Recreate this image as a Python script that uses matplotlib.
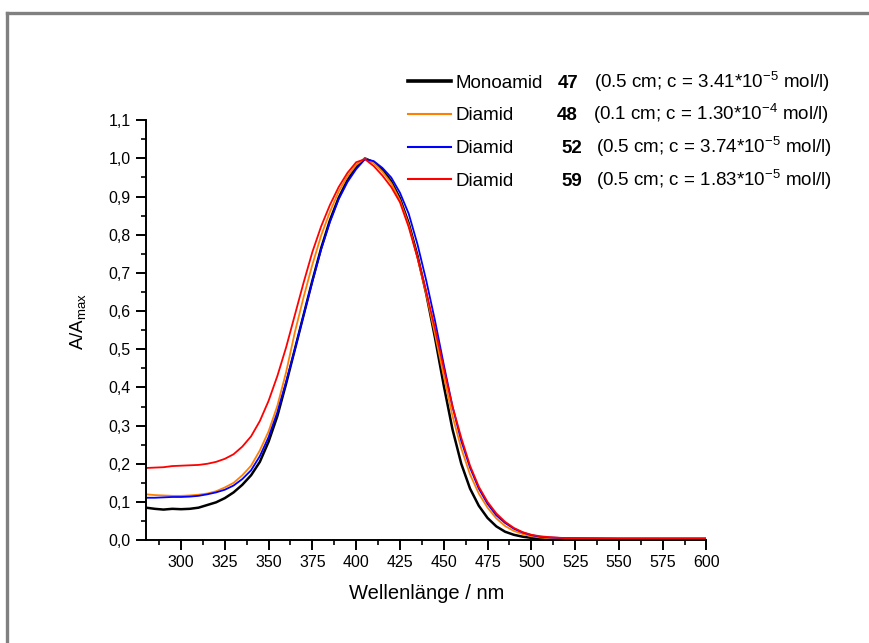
import matplotlib
matplotlib.use("Agg")
import matplotlib.pyplot as plt
from matplotlib.lines import Line2D
from matplotlib.ticker import MultipleLocator, FuncFormatter

plt.rcParams['font.family'] = ['Liberation Sans', 'DejaVu Sans']
plt.rcParams['mathtext.fontset'] = 'custom'
plt.rcParams['mathtext.rm'] = 'Liberation Sans'
plt.rcParams['mathtext.it'] = 'Liberation Sans:italic'
plt.rcParams['mathtext.bf'] = 'Liberation Sans:bold'

# wavelength grid (nm)
wl = [280, 285, 290, 295, 300, 305, 310, 315, 320, 325, 330, 335, 340, 345,
      350, 355, 360, 365, 370, 375, 380, 385, 390, 395, 400, 405, 410, 415,
      420, 425, 430, 435, 440, 445, 450, 455, 460, 465, 470, 475, 480, 485,
      490, 495, 500, 505, 510, 520, 550, 600]

# normalised absorbance A/Amax
a47 = [0.085, 0.082, 0.080, 0.082, 0.081, 0.082, 0.085, 0.092, 0.099, 0.110,
       0.125, 0.145, 0.170, 0.205, 0.258, 0.325, 0.410, 0.500, 0.590, 0.680,
       0.765, 0.838, 0.897, 0.943, 0.978, 1.000, 0.990, 0.970, 0.940, 0.895,
       0.830, 0.745, 0.645, 0.530, 0.405, 0.290, 0.200, 0.135, 0.090, 0.058,
       0.036, 0.022, 0.014, 0.009, 0.006, 0.005, 0.004, 0.003, 0.003, 0.003]
a48 = [0.120, 0.118, 0.117, 0.116, 0.116, 0.117, 0.119, 0.122, 0.128, 0.138,
       0.150, 0.170, 0.195, 0.235, 0.285, 0.352, 0.440, 0.545, 0.637, 0.722,
       0.798, 0.860, 0.913, 0.953, 0.983, 1.000, 0.988, 0.965, 0.935, 0.890,
       0.825, 0.740, 0.645, 0.540, 0.430, 0.325, 0.240, 0.172, 0.122, 0.085,
       0.057, 0.037, 0.024, 0.016, 0.010, 0.007, 0.005, 0.004, 0.004, 0.004]
a52 = [0.111, 0.111, 0.112, 0.113, 0.113, 0.114, 0.116, 0.120, 0.125, 0.132,
       0.143, 0.160, 0.183, 0.220, 0.270, 0.335, 0.415, 0.500, 0.590, 0.678,
       0.762, 0.833, 0.893, 0.938, 0.972, 0.998, 0.993, 0.975, 0.950, 0.910,
       0.855, 0.775, 0.680, 0.575, 0.460, 0.350, 0.260, 0.190, 0.135, 0.095,
       0.065, 0.045, 0.030, 0.020, 0.013, 0.009, 0.007, 0.005, 0.004, 0.004]
a59 = [0.189, 0.190, 0.191, 0.194, 0.195, 0.196, 0.197, 0.200, 0.205, 0.213,
       0.225, 0.245, 0.272, 0.312, 0.365, 0.430, 0.505, 0.590, 0.675, 0.755,
       0.822, 0.878, 0.925, 0.962, 0.990, 0.998, 0.980, 0.955, 0.925, 0.885,
       0.820, 0.740, 0.650, 0.555, 0.450, 0.350, 0.268, 0.195, 0.140, 0.100,
       0.070, 0.048, 0.032, 0.021, 0.014, 0.010, 0.008, 0.005, 0.004, 0.004]

names = ["Monoamid", "Diamid", "Diamid", "Diamid"]
numbers = ["47", "48", "52", "59"]
infos = ["(0.5 cm; c = 3.41*10$^{-5}$ mol/l)",
         "(0.1 cm; c = 1.30*10$^{-4}$ mol/l)",
         "(0.5 cm; c = 3.74*10$^{-5}$ mol/l)",
         "(0.5 cm; c = 1.83*10$^{-5}$ mol/l)"]
colors = ["black", "#FF8000", "#0000FF", "#FF0000"]
widths = [1.8, 1.3, 1.3, 1.3]

fig = plt.figure(figsize=(8.69, 6.43), dpi=100)
ax = fig.add_axes([0.168, 0.160, 0.645, 0.653])

for y, c, lw in zip([a47, a48, a52, a59], colors, widths):
    ax.plot(wl, y, color=c, lw=lw)

ax.set_xlim(280, 600)
ax.set_ylim(0, 1.1)
ax.xaxis.set_major_locator(MultipleLocator(25))
ax.xaxis.set_minor_locator(MultipleLocator(12.5))
ax.yaxis.set_major_locator(MultipleLocator(0.1))
ax.yaxis.set_minor_locator(MultipleLocator(0.05))
ax.xaxis.set_major_formatter(FuncFormatter(lambda v, p: "%d" % v if v >= 300 else ""))
ax.yaxis.set_major_formatter(FuncFormatter(lambda v, p: ("%.1f" % v).replace(".", ",")))
ax.spines['top'].set_visible(False)
ax.spines['right'].set_visible(False)
for s in ['left', 'bottom']:
    ax.spines[s].set_linewidth(1.4)
ax.tick_params(which='major', direction='out', length=7, width=1.4, labelsize=11.5, pad=4)
ax.tick_params(which='minor', direction='out', length=3.8, width=1.2)

ax.set_xlabel("Wellenlänge / nm", fontsize=14.5)
ax.xaxis.set_label_coords(0.5, -0.105)
ax.set_ylabel("A/A$_{\\rm max}$", fontsize=13.5)
ax.yaxis.set_label_coords(-0.104, 0.521)

leg_lines = [Line2D([], [], color=c, lw=w) for c, w in zip(colors, [2.6, 1.5, 1.5, 1.5])]
leg = fig.legend(leg_lines, names, loc='upper left', bbox_to_anchor=(0.4695, 0.884),
                 frameon=False, fontsize=13.5, handlelength=2.3, handletextpad=0.25,
                 labelspacing=0.83, borderaxespad=0, borderpad=0)

num_x = [558, 557, 561, 561]
info_x = [594, 593, 596, 596]
fig.canvas.draw()
for t, n, inf, nx, ix in zip(leg.get_texts(), numbers, infos, num_x, info_x):
    px, py = t.get_transform().transform(t.get_position())
    fy = py / fig.bbox.height
    fig.text(nx / 869, fy, n, fontsize=13.5, fontweight='bold', va='baseline')
    fig.text(ix / 869, fy, inf, fontsize=13.5, va='baseline')

# grey frame on top and left
fig.add_artist(Line2D([0.008, 1.0], [0.98, 0.98], transform=fig.transFigure,
                      color='#808080', lw=2.4))
fig.add_artist(Line2D([0.008, 0.008], [0.0, 0.98], transform=fig.transFigure,
                      color='#808080', lw=2.4))

fig.savefig("out.png", dpi=100)
